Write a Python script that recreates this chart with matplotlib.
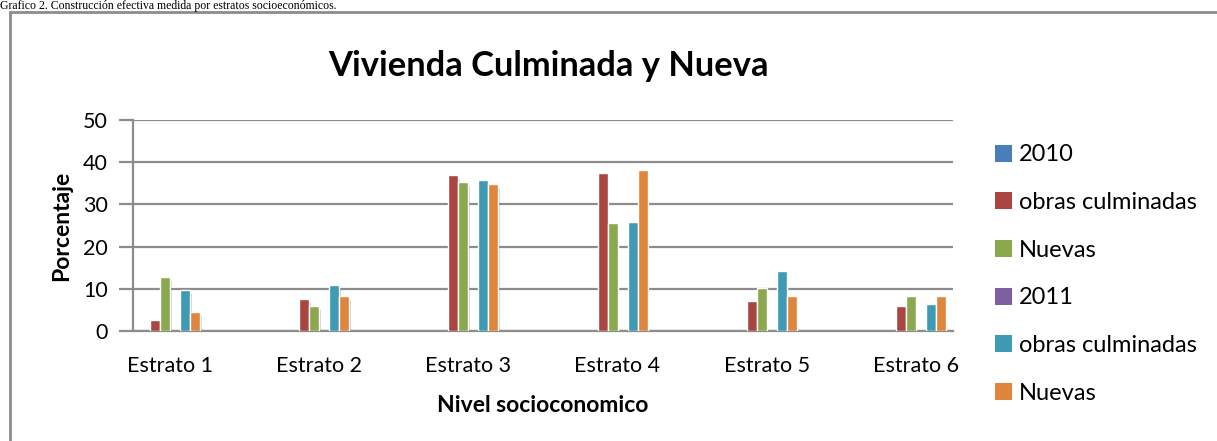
import numpy as np
import matplotlib.pyplot as plt
import matplotlib.patheffects as pe
from matplotlib.patches import Rectangle

plt.rcParams['font.family'] = ['Lato', 'DejaVu Sans']

categories = ['Estrato 1', 'Estrato 2', 'Estrato 3', 'Estrato 4', 'Estrato 5', 'Estrato 6']
series_names = ['2010', 'obras culminadas', 'Nuevas', '2011', 'obras culminadas', 'Nuevas']
s2010 = [0, 0, 0, 0, 0, 0]
obras_2010 = [2.7, 7.7, 36.9, 37.5, 7.2, 6.0]
nuevas_2010 = [12.9, 6.0, 35.3, 25.6, 10.3, 8.4]
s2011 = [0, 0, 0, 0, 0, 0]
obras_2011 = [9.7, 10.8, 35.7, 25.8, 14.1, 6.3]
nuevas_2011 = [4.6, 8.4, 34.8, 38.1, 8.3, 8.2]
colors = ['#4A7EBB', '#AB4542', '#8CA84F', '#7D60A0', '#3F9AB3', '#DF853C']

series = [s2010, obras_2010, nuevas_2010, s2011, obras_2011, nuevas_2011]

fig = plt.figure(figsize=(12.17, 4.41), dpi=100)
ax = fig.add_axes([133/1217, 110/441, 820/1217, 211/441])

x = np.arange(len(categories))
w = 0.067
shadow = [pe.SimplePatchShadow(offset=(1, -3), shadow_rgbFace='#666666', alpha=0.3), pe.Normal()]
for i, (vals, c, name) in enumerate(zip(series, colors, series_names)):
    bars = ax.bar(x + (i - 2.5) * w, vals, width=w, color=c, edgecolor='white',
                  linewidth=1.0, label=name, zorder=3)
    for b in bars:
        if b.get_height() > 0:
            b.set_path_effects(shadow)
        else:
            b.set_linewidth(0)

ax.set_xlim(-0.25, 5.25)
ax.set_ylim(0, 50)
ax.set_yticks(np.arange(0, 51, 10))
ax.set_xticks(x)
ax.set_xticklabels(categories)
ax.yaxis.grid(True, color='#8C8C8C', linewidth=1.6, zorder=0)
ax.set_axisbelow(True)
for s in ['top', 'right']:
    ax.spines[s].set_visible(False)
ax.spines['left'].set_color('#8C8C8C')
ax.spines['left'].set_linewidth(1.6)
ax.spines['bottom'].set_color('#8C8C8C')
ax.spines['bottom'].set_linewidth(1.6)
ax.tick_params(axis='y', length=10, width=1.6, color='#8C8C8C', labelsize=15.5, pad=8)
ax.tick_params(axis='x', length=0, labelsize=15.5, pad=18)

ax.set_ylabel('Porcentaje', fontsize=16.5, fontweight='bold', labelpad=8)
ax.set_xlabel('Nivel socioconomico', fontsize=16.5, fontweight='bold', labelpad=14)
fig.text(548/1217, 1 - 66/441, 'Vivienda Culminada y Nueva', fontsize=24.8,
         fontweight='bold', ha='center', va='center')

leg = ax.legend(loc='upper left', bbox_to_anchor=(1.025, 0.985), frameon=False,
                fontsize=17, handlelength=0.72, handleheight=0.72, handletextpad=0.3,
                labelspacing=1.13)
for h in leg.legend_handles:
    h.set_path_effects([])
    h.set_edgecolor('none')

# chart frame and caption
fig.patches.append(Rectangle((10/1217, -0.1), 1.2, 1 - 12/441 + 0.1, transform=fig.transFigure,
                             fill=False, edgecolor='#8C8C8C', linewidth=2.0))
fig.text(0.0, 1.0, 'Grafico 2. Construcción efectiva medida por estratos socioeconómicos.',
         family='Liberation Serif', fontsize=8.5, ha='left', va='top')

fig.savefig('out.png', dpi=100)
